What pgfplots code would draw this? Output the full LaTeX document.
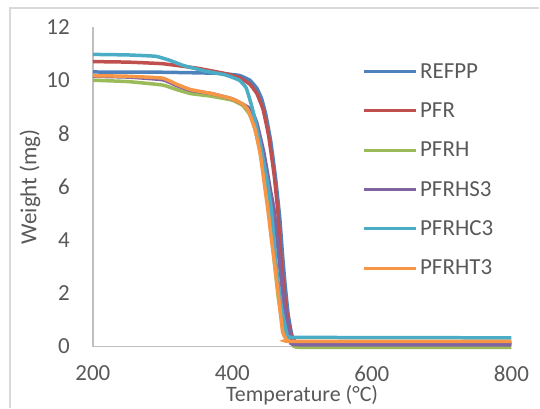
\documentclass[border=0pt]{standalone}
\usepackage{fontspec}
\setmainfont{Carlito}
\usepackage{pgfplots}
\pgfplotsset{compat=1.18}
\definecolor{txt}{HTML}{595959}
\definecolor{axgray}{HTML}{BFBFBF}
\definecolor{frame}{HTML}{D9D9D9}
\definecolor{cA}{HTML}{4F81BD}
\definecolor{cB}{HTML}{C0504D}
\definecolor{cC}{HTML}{9BBB59}
\definecolor{cD}{HTML}{8064A2}
\definecolor{cE}{HTML}{4BACC6}
\definecolor{cF}{HTML}{F79646}

\begin{document}
\begin{tikzpicture}
\begin{axis}[
  at={(0,0)}, anchor=origin,
  scale only axis,
  width=419bp, height=320bp,
  xmin=200, xmax=800, ymin=0, ymax=12,
  xtick={200,400,600,800},
  ytick={0,2,...,12},
  axis x line=bottom, axis y line=left,
  axis line style={axgray, line width=1.3bp, -},
  major tick length=0pt,
  clip=false,
  font=\fontsize{23bp}{27bp}\selectfont,
  /pgf/number format/assume math mode=true,
  ticklabel style={text=txt, font=\fontsize{23bp}{27bp}\selectfont},
  xticklabel style={anchor=center, inner sep=0pt, yshift=-27bp},
  yticklabel style={anchor=east, inner sep=0pt, xshift=-23bp},
  xlabel={Temperature (°C)},
  ylabel={Weight (mg)},
  label style={text=txt},
  xlabel style={at={(axis description cs:0.5,0)}, anchor=center, yshift=-49bp, inner sep=0pt,
    font=\fontsize{22bp}{26bp}\selectfont},
  ylabel style={at={(axis description cs:0,0.5)}, anchor=center, yshift=63bp},
  every axis plot/.append style={line width=3.5bp, smooth, tension=0.2},
  legend cell align=left,
  legend image code/.code={\draw[#1, line width=3bp] (0bp,0bp) -- (52bp,0bp);},
  legend style={draw=none, fill=none, at={(axis description cs:0.637,0.90)}, anchor=north west,
    font=\fontsize{23bp}{27bp}\selectfont, text=txt, row sep=18bp,
    nodes={inner sep=2.5bp}},
]
\addplot[cA] coordinates {(200,10.31)(300,10.3)(380,10.26)(410,10.18)(425,10.0)(435,9.7)(442,9.3)(448,8.7)(455,7.7)(462,6.3)(468,4.8)(472,3.4)(476,2.2)(480,1.2)(485,0.45)(490,0.18)(500,0.1)(800,0.1)};
\addlegendentry{REFPP}
\addplot[cB] coordinates {(200,10.7)(250,10.68)(300,10.62)(350,10.45)(390,10.25)(410,10.1)(425,9.85)(435,9.5)(444,8.9)(452,7.9)(460,6.4)(465,5.1)(470,3.2)(475,1.9)(480,0.9)(485,0.4)(490,0.2)(500,0.15)(800,0.15)};
\addlegendentry{PFR}
\addplot[cC] coordinates {(200,10.0)(250,9.95)(300,9.82)(320,9.65)(340,9.5)(370,9.4)(400,9.25)(415,9.05)(425,8.7)(432,8.2)(440,7.3)(448,6.0)(454,5.0)(460,3.2)(466,1.8)(472,0.8)(480,0.25)(490,0.05)(500,-0.03)(800,-0.03)};
\addlegendentry{PFRH}
\addplot[cD] coordinates {(200,10.15)(250,10.12)(300,10.02)(320,9.8)(340,9.62)(370,9.5)(400,9.3)(415,9.1)(427,8.9)(435,8.4)(445,7.3)(455,5.8)(460,5.1)(468,3.0)(474,1.6)(482,0.5)(488,0.15)(495,0.07)(800,0.07)};
\addlegendentry{PFRHS3}
\addplot[cE] coordinates {(200,10.97)(250,10.95)(290,10.9)(310,10.75)(330,10.55)(360,10.35)(390,10.2)(410,10.0)(420,9.7)(429,8.9)(440,7.6)(450,6.2)(456,5.1)(463,3.0)(470,1.5)(478,0.5)(485,0.35)(800,0.33)};
\addlegendentry{PFRHC3}
\addplot[cF] coordinates {(200,10.17)(250,10.15)(300,10.08)(320,9.85)(340,9.65)(370,9.5)(400,9.3)(415,9.1)(422,8.9)(432,8.2)(440,7.2)(451,5.1)(456,4.0)(461,3.0)(466,1.9)(472,0.55)(478,0.25)(485,0.2)(800,0.2)};
\addlegendentry{PFRHT3}
\end{axis}
\draw[frame, line width=1.2bp] (-83bp,-61bp) -- (-83bp,339bp) -- (447bp,339bp);
\useasboundingbox (-93bp,-61bp) rectangle (447bp,347bp);
\end{tikzpicture}
\end{document}
